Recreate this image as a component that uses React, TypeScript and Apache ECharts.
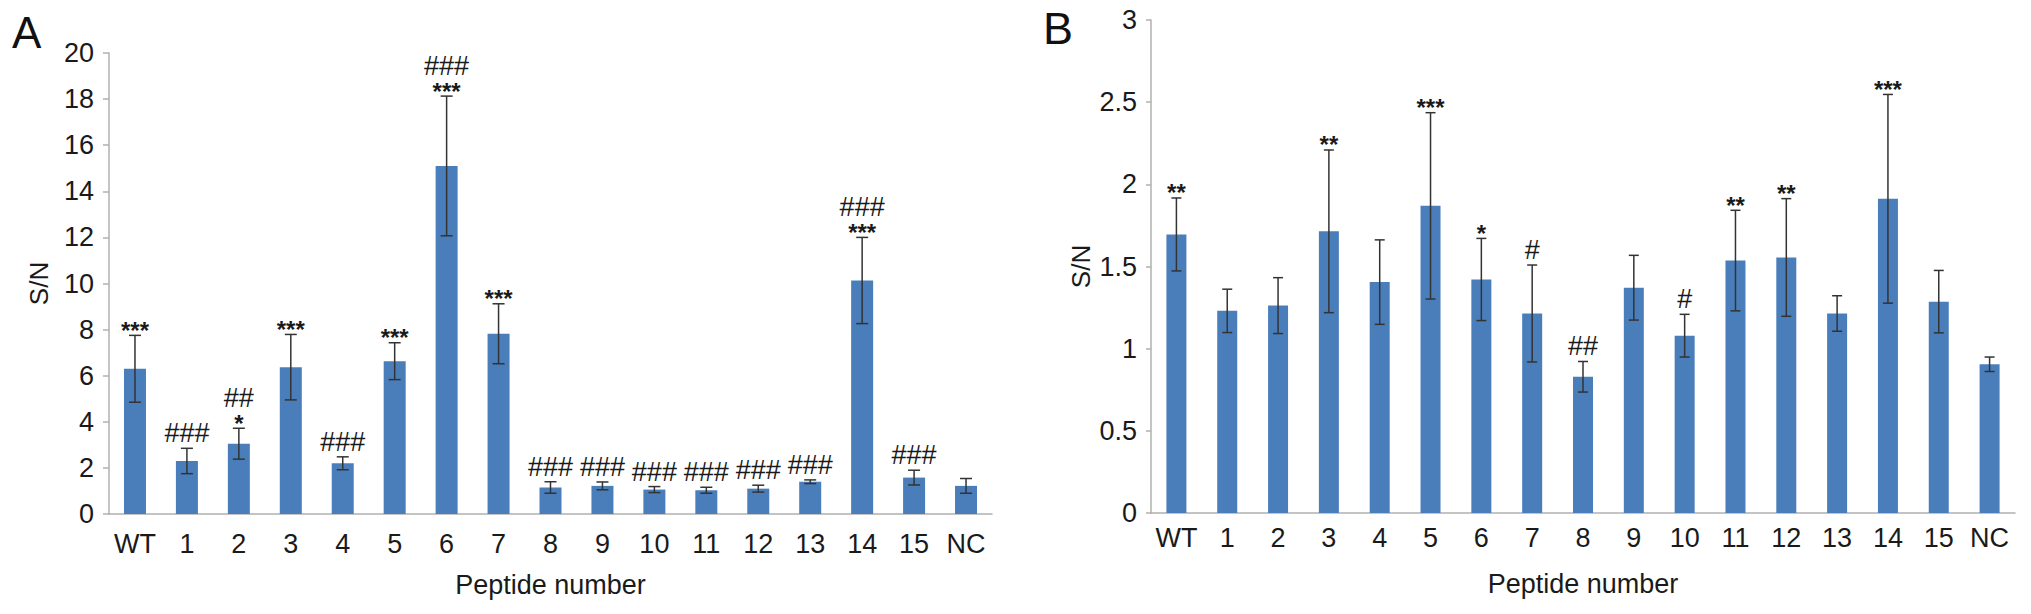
import { useEffect, useRef } from "react";
import * as echarts from "echarts";

const categories = ["WT", "1", "2", "3", "4", "5", "6", "7", "8", "9", "10", "11", "12", "13", "14", "15", "NC"];

// panel A
const meansA = [6.3, 2.3, 3.05, 6.37, 2.2, 6.63, 15.1, 7.82, 1.15, 1.22, 1.06, 1.03, 1.1, 1.4, 10.13, 1.58, 1.22];
const errorsA = [1.45, 0.55, 0.67, 1.42, 0.28, 0.8, 3.03, 1.3, 0.25, 0.17, 0.13, 0.13, 0.15, 0.08, 1.87, 0.32, 0.32];
const starsA = ["***", "", "*", "***", "", "***", "***", "***", "", "", "", "", "", "", "***", "", ""];
const hashA = ["", "###", "##", "", "###", "", "###", "", "###", "###", "###", "###", "###", "###", "###", "###", ""];

// panel B
const meansB = [1.695, 1.23, 1.262, 1.714, 1.405, 1.869, 1.421, 1.214, 0.829, 1.371, 1.079, 1.536, 1.555, 1.214, 1.912, 1.286, 0.905];
const errorsB = [0.222, 0.132, 0.17, 0.495, 0.257, 0.567, 0.25, 0.295, 0.093, 0.197, 0.13, 0.306, 0.358, 0.108, 0.635, 0.19, 0.044];
const starsB = ["**", "", "", "**", "", "***", "*", "", "", "", "", "**", "**", "", "***", "", ""];
const hashB = ["", "", "", "", "", "", "", "#", "##", "", "#", "", "", "", "", "", ""];

const FONT = "'Liberation Sans', Arial, Helvetica, sans-serif";
const BAR_COLOR = "#4a7ebb";
const AXIS_COLOR = "#b0b0b0";
const TEXT_COLOR = "#1a1a1a";

function errorSeries(
  means: number[],
  errors: number[],
  stars: string[],
  hashes: string[],
  axisIndex: number,
  capWidth: number
) {
  return {
    type: "custom",
    xAxisIndex: axisIndex,
    yAxisIndex: axisIndex,
    z: 5,
    clip: false,
    data: means.map((v, i) => [i, v]),
    encode: { x: 0, y: 1 },
    renderItem: (params: any, api: any) => {
      const i = params.dataIndex;
      const hi = api.coord([i, means[i] + errors[i]]);
      const lo = api.coord([i, means[i] - errors[i]]);
      const x = hi[0];
      const half = capWidth / 2;
      const line = { stroke: "#333", lineWidth: 1.5 };
      const children: any[] = [
        { type: "line", shape: { x1: x, y1: hi[1], x2: x, y2: lo[1] }, style: line },
        { type: "line", shape: { x1: x - half, y1: hi[1], x2: x + half, y2: hi[1] }, style: line },
        { type: "line", shape: { x1: x - half, y1: lo[1], x2: x + half, y2: lo[1] }, style: line },
      ];
      const top = hi[1];
      if (stars[i]) {
        children.push({
          type: "text",
          x,
          y: top - 5,
          style: { text: stars[i], font: `bold 24px ${FONT}`, fill: TEXT_COLOR, align: "center", verticalAlign: "middle" },
        });
      }
      if (hashes[i]) {
        children.push({
          type: "text",
          x,
          y: stars[i] ? top - 30 : top - 15,
          style: { text: hashes[i], font: `27px ${FONT}`, fill: TEXT_COLOR, align: "center", verticalAlign: "middle" },
        });
      }
      return { type: "group", children };
    },
  };
}

function xAxisFor(gridIndex: number, tickLen: number, margin: number) {
  return {
    type: "category",
    gridIndex,
    data: categories,
    axisLine: { lineStyle: { color: AXIS_COLOR, width: 1.5 } },
    axisTick: { length: tickLen, lineStyle: { color: AXIS_COLOR, width: 1.5 } },
    axisLabel: { interval: 0, margin, fontSize: 27, fontFamily: FONT, color: TEXT_COLOR },
    name: "Peptide number",
    nameLocation: "middle",
    nameGap: 57,
    nameTextStyle: { fontSize: 27, fontFamily: FONT, color: TEXT_COLOR },
  };
}

function yAxisFor(gridIndex: number, max: number, interval: number, tickLen: number, margin: number) {
  return {
    type: "value",
    gridIndex,
    min: 0,
    max,
    interval,
    axisLine: { show: true, lineStyle: { color: AXIS_COLOR, width: 1.5 } },
    axisTick: { show: true, length: tickLen, lineStyle: { color: AXIS_COLOR, width: 1.5 } },
    splitLine: { show: false },
    axisLabel: { margin, fontSize: 27, fontFamily: FONT, color: TEXT_COLOR },
    name: "S/N",
    nameLocation: "middle",
    nameRotate: 90,
    nameGap: 57,
    nameTextStyle: { fontSize: 26, fontFamily: FONT, color: TEXT_COLOR },
  };
}

export default function App() {
  const chartRef = useRef<HTMLDivElement>(null);

  useEffect(() => {
    if (!chartRef.current) return;
    const chart = echarts.init(chartRef.current, null, { renderer: "svg" });

    const option: any = {
      animation: false,
      backgroundColor: "#ffffff",
      grid: [
        { left: 109, right: 2031 - 992, top: 53, bottom: 614 - 514 },
        { left: 1151, right: 2031 - 2015, top: 20, bottom: 614 - 513 },
      ],
      xAxis: [xAxisFor(0, 8, 16), xAxisFor(1, 5, 11)],
      yAxis: [yAxisFor(0, 20, 2, 6, 15), yAxisFor(1, 3, 0.5, 5, 14)],
      graphic: [
        {
          type: "text",
          left: 12,
          top: 10,
          style: { text: "A", font: `44px ${FONT}`, fill: "#111" },
        },
        {
          type: "text",
          left: 1043,
          top: 6,
          style: { text: "B", font: `45px ${FONT}`, fill: "#111" },
        },
      ],
      series: [
        {
          type: "bar",
          xAxisIndex: 0,
          yAxisIndex: 0,
          data: meansA,
          barWidth: 22,
          itemStyle: { color: BAR_COLOR },
        },
        errorSeries(meansA, errorsA, starsA, hashA, 0, 12),
        {
          type: "bar",
          xAxisIndex: 1,
          yAxisIndex: 1,
          data: meansB,
          barWidth: 20,
          itemStyle: { color: BAR_COLOR },
        },
        errorSeries(meansB, errorsB, starsB, hashB, 1, 10),
      ],
    };

    chart.setOption(option);

    const handleResize = () => chart.resize();
    window.addEventListener("resize", handleResize);
    return () => {
      window.removeEventListener("resize", handleResize);
      chart.dispose();
    };
  }, []);

  return (
    <div
      ref={chartRef}
      style={{ position: "absolute", left: 0, top: 0, width: 2031, height: 614 }}
    />
  );
}
